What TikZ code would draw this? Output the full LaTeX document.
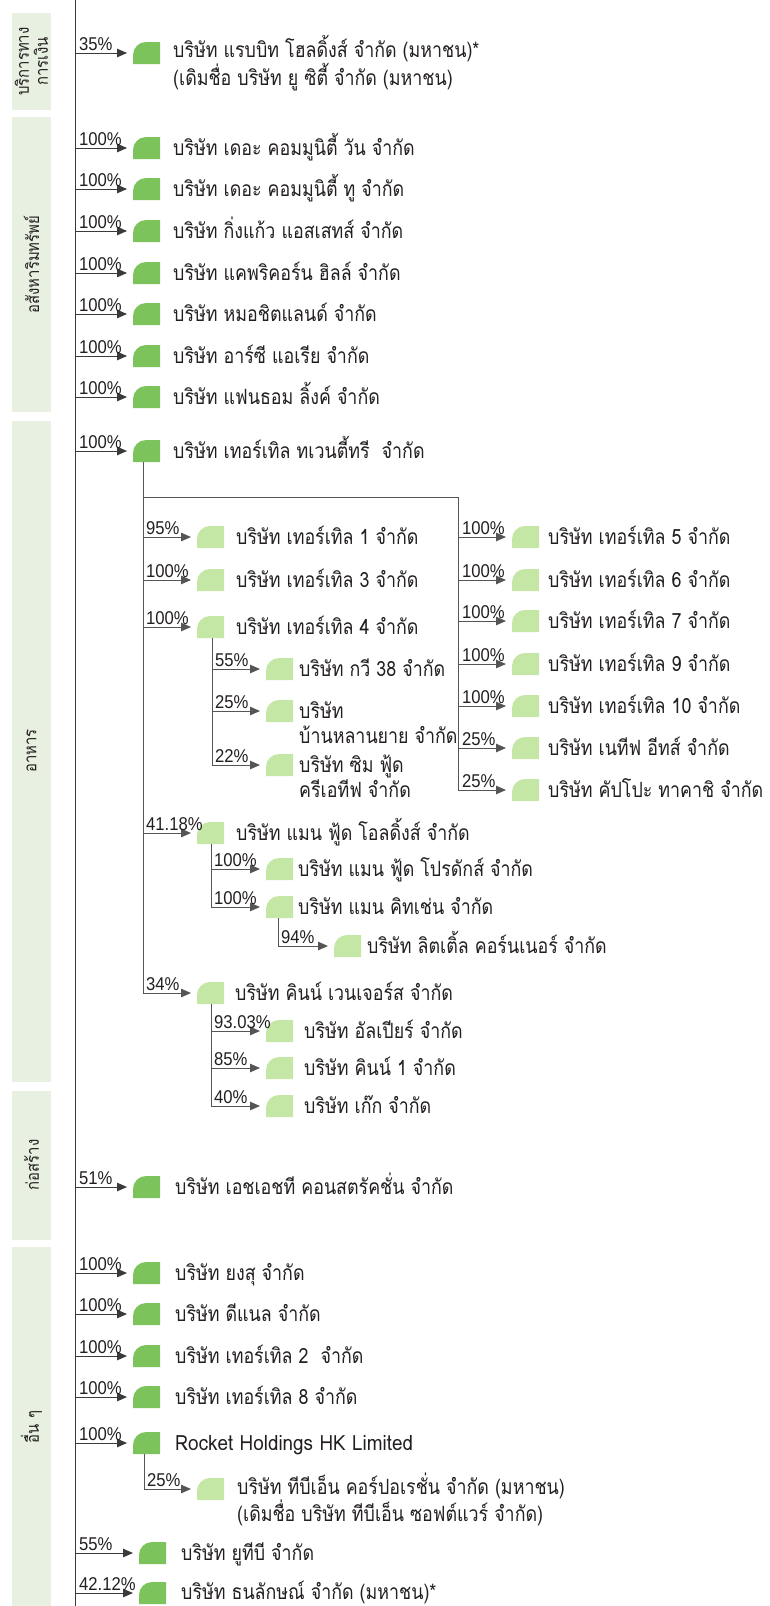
\documentclass[tikz,border=0pt]{standalone}
\usepackage{fontspec}
\usetikzlibrary{arrows.meta}
\setmainfont{Liberation Sans}
\newfontfamily\thai[Script=Thai,FakeStretch=0.85]{Loma}
\newfontfamily\thaiw[Script=Thai,FakeStretch=0.9]{Loma}
\newfontfamily\pctf[FakeStretch=0.9]{Liberation Sans}
\definecolor{dg}{HTML}{7DC35B}
\definecolor{lg}{HTML}{C4E7A5}
\definecolor{bx}{HTML}{E8F0E2}
\definecolor{ln}{HTML}{3A3A3A}
\definecolor{ln2}{HTML}{555555}
\definecolor{tx}{HTML}{231F20}
\tikzset{
  leafbase/.style={minimum width=27pt,minimum height=22pt,inner sep=0pt,outer sep=0pt,anchor=west},
  leaf/.style={leafbase,path picture={\fill[#1] (path picture bounding box.south west) -- ([yshift=-13pt]path picture bounding box.north west) arc[start angle=180,end angle=90,radius=13pt] -- (path picture bounding box.north east) -- (path picture bounding box.south east) -- cycle;}},
  co/.style={anchor=base west,inner sep=0pt,font=\thai\fontsize{21}{25}\selectfont,text=tx,align=left},
  pc/.style={anchor=base west,inner sep=0pt,font=\pctf\fontsize{18.5}{18.5}\selectfont,text=tx},
  cat/.style={rotate=90,inner sep=0pt,font=\thai\fontsize{17.5}{19}\selectfont,text=tx,align=center},
  conn/.style={draw=ln,line width=1pt},
  sub/.style={draw=ln2,line width=1pt},
  arr/.style={-{Triangle[length=10pt,width=8.5pt]},shorten >=6pt},
}
\begin{document}
\begin{tikzpicture}[x=1pt,y=-1pt]
\useasboundingbox (0,0) rectangle (769,1606);
% category boxes
\fill[bx] (12,13) rectangle (51,110);
\fill[bx] (12,117) rectangle (51,412);
\fill[bx] (12,421) rectangle (51,1082);
\fill[bx] (12,1091) rectangle (51,1240);
\fill[bx] (12,1247) rectangle (51,1606);
\node[cat] (k1) at (31.5,61.5) {บริการทาง\\การเงิน};
\node[cat] (k2) at (31.5,264.5) {อสังหาริมทรัพย์};
\node[cat] (k3) at (31.5,751) {อาหาร};
\node[cat] (k4) at (31.5,1165) {ก่อสร้าง};
\node[cat] (k5) at (31.5,1427) {อื่น ๆ};
% main line
\coordinate (top) at (75,0);
\coordinate (bot) at (75,1606);
\draw[conn] (top) -- (bot);
% top-level entries
\foreach \n/\y/\p/\c in {
 a1/53/35\%/dg, a2/148/100\%/dg, a3/189/100\%/dg, a4/231/100\%/dg, a5/273/100\%/dg,
 a6/314/100\%/dg, a7/356/100\%/dg, a8/397/100\%/dg, a9/451/100\%/dg,
 a10/1187/51\%/dg, a11/1273/100\%/dg, a12/1314/100\%/dg, a13/1356/100\%/dg,
 a14/1397/100\%/dg, a15/1443/100\%/dg}{
  \node[leaf=\c] (\n) at (133,\y) {};
  \draw[conn,arr] (\n.west -| top) -- (\n.west);
  \node[pc] at (79,\y-3) {\p};
}
\node[leaf=dg] (a16) at (139,1553) {};
\draw[conn,arr] (a16.west -| top) -- (a16.west);
\node[pc] at (79,1550) {55\%};
\node[leaf=dg] (a17) at (139,1593) {};
\draw[conn,arr] (a17.west -| top) -- (a17.west);
\node[pc] at (79,1590) {42.12\%};

\node[co] (t1) at (173,85) {บริษัท แรบบิท โฮลดิ้งส์ จำกัด (มหาชน)*\\(เดิมชื่อ บริษัท ยู ซิตี้ จำกัด (มหาชน)};
\node[co] (t2) at (173,155) {บริษัท เดอะ คอมมูนิตี้ วัน จำกัด};
\node[co] (t3) at (173,196) {บริษัท เดอะ คอมมูนิตี้ ทู จำกัด};
\node[co] (t4) at (173,238) {บริษัท กิ่งแก้ว แอสเสทส์ จำกัด};
\node[co] (t5) at (173,280) {บริษัท แคพริคอร์น ฮิลล์ จำกัด};
\node[co] (t6) at (173,321) {บริษัท หมอชิตแลนด์ จำกัด};
\node[co] (t7) at (173,363) {บริษัท อาร์ซี แอเรีย จำกัด};
\node[co] (t8) at (173,404) {บริษัท แฟนธอม ลิ้งค์ จำกัด};
\node[co] (t9) at (173,458) {บริษัท เทอร์เทิล ทเวนตี้ทรี\ \ จำกัด};
\node[co] (t10) at (175,1194) {บริษัท เอชเอชที คอนสตรัคชั่น จำกัด};
\node[co] (t11) at (175,1280) {บริษัท ยงสุ จำกัด};
\node[co] (t12) at (175,1321) {บริษัท ดีแนล จำกัด};
\node[co] (t13) at (175,1363) {บริษัท เทอร์เทิล 2\ \ จำกัด};
\node[co] (t14) at (175,1404) {บริษัท เทอร์เทิล 8 จำกัด};
\node[co,font=\thaiw\fontsize{21}{25}\selectfont] (t15) at (175,1450) {Rocket Holdings HK Limited};
\node[co] (t16) at (181,1560) {บริษัท ยูทีบี จำกัด};
\node[co] (t17) at (181,1599) {บริษัท ธนลักษณ์ จำกัด (มหาชน)*};

% Turtle 23 tree
\coordinate (bL) at (143,0);
\coordinate (hR) at (458,497);
% left branch
\foreach \n/\y/\p in {b1/537/95\%, b2/580/100\%, b3/627/100\%, b4/833/41.18\%, b5/993/34\%}{
  \node[leaf=lg] (\n) at (197,\y) {};
  \draw[sub,arr] (\n.west -| bL) -- (\n.west);
  \node[pc] at (146,\y-3) {\p};
}
\draw[sub] (a9.south -| bL) -- (b5.west -| bL);
\draw[sub] (hR -| bL) -- (hR);
\node[co] (u1) at (236,544) {บริษัท เทอร์เทิล 1 จำกัด};
\node[co] (u2) at (236,587) {บริษัท เทอร์เทิล 3 จำกัด};
\node[co] (u3) at (236,634) {บริษัท เทอร์เทิล 4 จำกัด};
\node[co] (u4) at (236,840) {บริษัท แมน ฟู้ด โอลดิ้งส์ จำกัด};
\node[co] (u5) at (235,1000) {บริษัท คินน์ เวนเจอร์ส จำกัด};
% right branch
\foreach \n/\y/\p in {r1/537/100\%, r2/580/100\%, r3/621/100\%, r4/664/100\%, r5/706/100\%, r6/748/25\%, r7/790/25\%}{
  \node[leaf=lg] (\n) at (512,\y) {};
  \draw[sub,arr] (\n.west -| hR) -- (\n.west);
  \node[pc] at (462,\y-3) {\p};
}
\draw[sub] (hR) -- (r7.west -| hR);
\node[co] (s1) at (548,544) {บริษัท เทอร์เทิล 5 จำกัด};
\node[co] (s2) at (548,587) {บริษัท เทอร์เทิล 6 จำกัด};
\node[co] (s3) at (548,628) {บริษัท เทอร์เทิล 7 จำกัด};
\node[co] (s4) at (548,671) {บริษัท เทอร์เทิล 9 จำกัด};
\node[co] (s5) at (548,713) {บริษัท เทอร์เทิล 10 จำกัด};
\node[co] (s6) at (548,755) {บริษัท เนทีฟ อีทส์ จำกัด};
\node[co] (s7) at (548,797) {บริษัท คัปโปะ ทาคาชิ จำกัด};

% Turtle 4 subtree
\coordinate (b3x) at (212,0);
\foreach \n/\y/\p in {c1/669/55\%, c2/711/25\%, c3/765/22\%}{
  \node[leaf=lg] (\n) at (266,\y) {};
  \draw[sub,arr] (\n.west -| b3x) -- (\n.west);
  \node[pc] at (215,\y-3) {\p};
}
\draw[sub] (b3.south -| b3x) -- (c3.west -| b3x);
\node[co] (v1) at (299,676) {บริษัท กวี 38 จำกัด};
\node[co] (v2) at (299,743) {บริษัท\\บ้านหลานยาย จำกัด};
\node[co] (v3) at (299,797) {บริษัท ซิม ฟู้ด\\ครีเอทีฟ จำกัด};

% Mann food subtree
\coordinate (b4x) at (211,0);
\foreach \n/\y/\p in {d1/869/100\%, d2/907/100\%}{
  \node[leaf=lg] (\n) at (266,\y) {};
  \draw[sub,arr] (\n.west -| b4x) -- (\n.west);
  \node[pc] at (214,\y-3) {\p};
}
\draw[sub] (b4.south -| b4x) -- (d2.west -| b4x);
\node[co] (w1) at (298,876) {บริษัท แมน ฟู้ด โปรดักส์ จำกัด};
\node[co] (w2) at (298,914) {บริษัท แมน คิทเช่น จำกัด};
\coordinate (d2x) at (278,0);
\node[leaf=lg] (e1) at (334,946) {};
\draw[sub,arr] (e1.west -| d2x) -- (e1.west);
\draw[sub] (d2.south -| d2x) -- (e1.west -| d2x);
\node[pc] at (281,943) {94\%};
\node[co] (w3) at (367,953) {บริษัท ลิตเติ้ล คอร์นเนอร์ จำกัด};

% Kinn subtree
\coordinate (b5x) at (211,0);
\foreach \n/\y/\p in {f1/1031/93.03\%, f2/1068/85\%, f3/1106/40\%}{
  \node[leaf=lg] (\n) at (266,\y) {};
  \draw[sub,arr] (\n.west -| b5x) -- (\n.west);
  \node[pc] at (214,\y-3) {\p};
}
\draw[sub] (b5.south -| b5x) -- (f3.west -| b5x);
\node[co] (x1) at (304,1038) {บริษัท อัลเปียร์ จำกัด};
\node[co] (x2) at (304,1075) {บริษัท คินน์ 1 จำกัด};
\node[co] (x3) at (304,1113) {บริษัท เก๊ก จำกัด};

% Rocket subtree
\coordinate (a15x) at (144,0);
\node[leaf=lg] (g1) at (197,1489) {};
\draw[sub,arr] (g1.west -| a15x) -- (g1.west);
\draw[sub] (a15.south -| a15x) -- (g1.west -| a15x);
\node[pc] at (147,1486) {25\%};
\node[co] (y1) at (237,1521) {บริษัท ทีบีเอ็น คอร์ปอเรชั่น จำกัด (มหาชน)\\(เดิมชื่อ บริษัท ทีบีเอ็น ซอฟต์แวร์ จำกัด)};
\end{tikzpicture}
\end{document}
